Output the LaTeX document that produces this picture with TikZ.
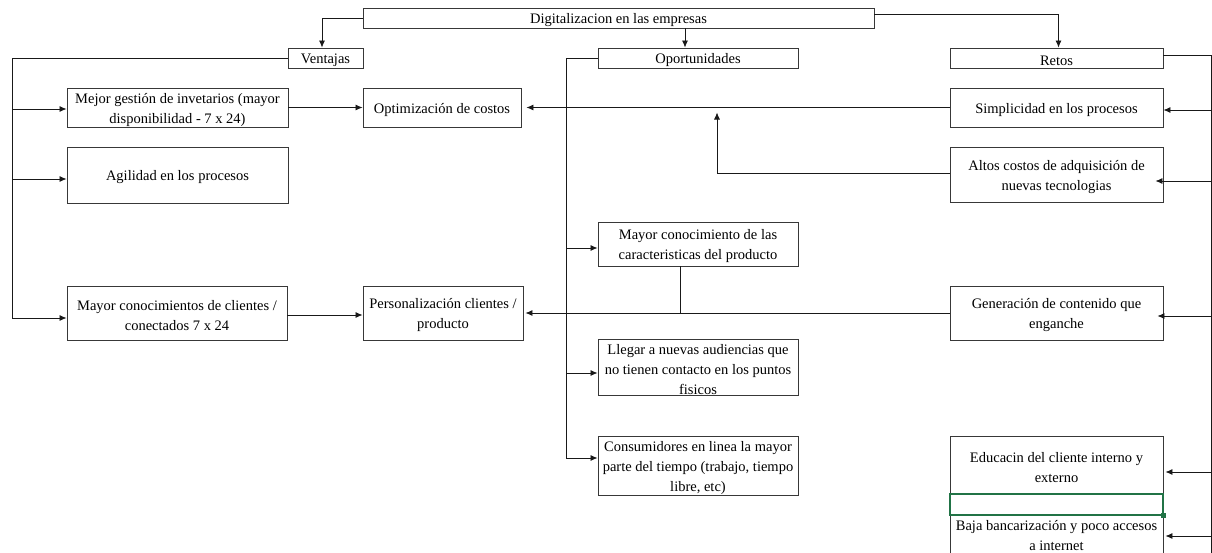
\documentclass[tikz,border=0pt]{standalone}
\usepackage{fontspec}
\setmainfont{Liberation Serif}
\usetikzlibrary{arrows.meta}
\definecolor{xlgreen}{HTML}{217346}
\newcommand\tstrut{\rule{0pt}{15pt}}
\begin{document}
\begin{tikzpicture}[x=1pt,y=-1pt,
  box/.style={draw=black!78, line width=0.9pt, inner sep=0pt, align=center, font=\fontsize{14.5}{20}\selectfont},
  sz/.style n args={2}{minimum width=#1pt, minimum height=#2pt},
  conn/.style={line width=0.8pt, draw=black!90},
  arr/.style={conn, -{Latex[length=7pt,width=6pt]}}]
\useasboundingbox (0,0) rectangle (1212,552);
\clip (0,0) rectangle (1212,552);
% boxes
\node[box, sz={511}{20}] (top) at (618.5,18) {\tstrut Digitalizacion en las empresas};
\node[box, sz={75}{20}] (ven) at (325.5,58) {\tstrut Ventajas};
\node[box, sz={200}{20}] (opo) at (698,58) {\tstrut Oportunidades};
\node[box, sz={213}{20}] (ret) at (1056.5,58) {\tstrut Retos};
\node[box, sz={221}{39}] (mej) at (177.5,107.5) {\tstrut Mejor gestión de invetarios (mayor\\disponibilidad - 7 x 24)};
\node[box, sz={158}{39}] (opt) at (442,107.5) {\tstrut Optimización de costos};
\node[box, sz={213}{39}] (sim) at (1056.5,107.5) {\tstrut Simplicidad en los procesos};
\node[box, sz={221}{56}] (agi) at (177.5,175) {\tstrut Agilidad en los procesos};
\node[box, sz={213}{55}] (alt) at (1056.5,174.5) {\tstrut Altos costos de adquisición de\\nuevas tecnologias};
\node[box, sz={200}{44}] (mcc) at (698,244) {\tstrut Mayor conocimiento de las\\caracteristicas del producto};
\node[box, sz={220}{54}] (mcl) at (177,313) {\tstrut Mayor conocimientos de clientes /\\conectados 7 x 24};
\node[box, sz={160}{54}] (per) at (443,313) {\tstrut Personalización clientes /\\producto};
\node[box, sz={213}{54}] (gen) at (1056.5,313) {\tstrut Generación de contenido que\\enganche};
\node[box, sz={200}{55}] (lle) at (698,367.5) {\tstrut Llegar a nuevas audiencias que\\no tienen contacto en los puntos\\fisicos};
\node[box, sz={200}{59}] (con) at (698,465.5) {\tstrut Consumidores en linea la mayor\\parte del tiempo (trabajo, tiempo\\libre, etc)};
\node[box, sz={213}{58}] (edu) at (1056.5,465) {\tstrut Educacin del cliente interno y\\externo};
\node[box, sz={213}{43}] (baja) at (1056.5,535.5) {Baja bancarización y poco accesos\\a internet};
\node[draw=xlgreen, line width=1.4pt, sz={213}{21}, inner sep=0pt] (sel) at (1056.5,504.5) {};
\node[fill=xlgreen, minimum size=5pt, inner sep=0pt] (hdl) at (sel.south east) {};
% helper coordinates
\coordinate (lv) at (12,318);
\coordinate (rv) at (1211,560);
\coordinate (ov) at (566,458);
\coordinate (j1) at (717,0);
% top level
\draw[arr] (top.west) -| ([xshift=-3.5pt]ven.north);
\draw[arr] ([xshift=-13pt]opo.north |- top.south) -- ([xshift=-13pt]opo.north);
\draw[arr] ([yshift=4pt]top.east) -| ([xshift=2pt]ret.north);
% ventajas
\draw[conn] (ven.west) -| (lv);
\draw[arr] ([yshift=-1.5pt]mej.west -| lv) -- ([yshift=-1.5pt]mej.west);
\draw[arr] ([yshift=-4pt]agi.west -| lv) -- ([yshift=-4pt]agi.west);
\draw[arr] (lv) -- (lv -| mcl.west);
\draw[arr] (mej.east) -- (opt.west);
\draw[arr] ([yshift=-2pt]mcl.east) -- ([yshift=-2pt]per.west);
% retos
\draw[conn] ([yshift=3pt]ret.east) -| (rv);
\draw[arr] ([yshift=-2.5pt]sim.east -| rv) -- ([yshift=-2.5pt]sim.east);
\draw[arr, shorten >=-8pt] ([yshift=-6.5pt]alt.east -| rv) -- ([yshift=-6.5pt]alt.east);
\draw[arr, shorten >=-6pt] ([yshift=-3pt]gen.east -| rv) -- ([yshift=-3pt]gen.east);
\draw[arr, shorten >=2pt] ([yshift=-7pt]edu.east -| rv) -- ([yshift=-7pt]edu.east);
\draw[arr, shorten >=2pt] ([yshift=-0.5pt]baja.east -| rv) -- ([yshift=-0.5pt]baja.east);
% oportunidades
\draw[conn] (opo.west) -| (ov);
\draw[arr] ([yshift=-4pt]mcc.west -| ov) -- ([yshift=-4pt]mcc.west);
\draw[arr] ([yshift=-5.5pt]lle.west -| ov) -- ([yshift=-5.5pt]lle.west);
\draw[arr] (ov) -- (ov -| con.west);
% cross links
\draw[arr, shorten >=5pt] (sim.west) -- (opt.east);
\draw[arr, shorten >=5pt] ([yshift=1.5pt]alt.west) -| (sim.west -| j1);
\draw[arr, shorten >=2pt] (gen.west) -- (per.east);
\draw[conn] ([xshift=-18pt]mcc.south) -- ([xshift=-18pt]mcc.south |- gen.west);
\end{tikzpicture}
\end{document}
